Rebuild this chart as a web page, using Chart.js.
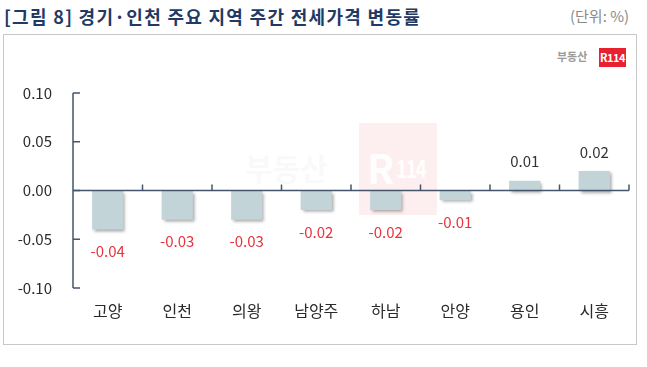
<!DOCTYPE html>
<html>
<head>
<meta charset="utf-8">
<script src="https://cdn.jsdelivr.net/npm/chart.js@4.4.3/dist/chart.umd.min.js"></script>
<style>
  html, body { margin: 0; padding: 0; background: #fff; }
  body { width: 647px; height: 367px; position: relative; overflow: hidden; font-family: "Noto Sans CJK KR", "Noto Sans", sans-serif; }
  .title { position: absolute; left: 4px; top: 3px; font-size: 18px; font-weight: bold; color: #1f3a64; white-space: nowrap; letter-spacing: 1.3px; }
  .unit { position: absolute; left: 570px; top: 5px; font-size: 15px; color: #8a8a8a; white-space: nowrap; }
  .box { position: absolute; left: 3px; top: 34px; width: 634px; height: 311px; border: 1.5px solid #c8c8c8; box-sizing: border-box; }
  .logo-txt { position: absolute; left: 557px; top: 48px; font-size: 11px; font-weight: bold; color: #9a9a9a; }
  .logo-box { position: absolute; left: 599px; top: 48px; width: 27px; height: 19px; background: #e8202f; color: #fff; font-size: 11px; font-weight: bold; text-align: center; line-height: 19px; letter-spacing: -0.5px; }
  .wm-box { position: absolute; left: 359px; top: 123px; width: 78px; height: 92px; background: rgba(240, 130, 140, 0.13); }
  .wm-r { position: absolute; left: 367px; top: 138px; font-size: 40px; font-weight: bold; color: rgba(255,255,255,0.95); }
  .wm-n { position: absolute; left: 396px; top: 150px; font-size: 24px; font-weight: bold; color: rgba(255,255,255,0.95); letter-spacing: -2px; transform: scaleX(0.8); transform-origin: left; }
  .wm-txt { position: absolute; left: 245px; top: 145px; font-size: 30px; font-weight: bold; color: rgba(200,200,200,0.10); }
  canvas { position: absolute; left: 0; top: 0; }
</style>
</head>
<body>
<div class="title">[그림 8] 경기·인천 주요 지역 주간 전세가격 변동률</div>
<div class="unit">(단위: %)</div>
<div class="box"></div>
<div class="wm-box"></div>
<div class="wm-txt">부동산</div>
<div class="wm-r">R</div>
<div class="wm-n">114</div>
<div class="logo-txt">부동산</div>
<div class="logo-box">R114</div>
<canvas id="c" width="647" height="367"></canvas>
<script>
const REGIONS = ['고양', '인천', '의왕', '남양주', '하남', '안양', '용인', '시흥'];
const CHANGE = [-0.04, -0.03, -0.03, -0.02, -0.02, -0.01, 0.01, 0.02];
const Y_MIN = -0.10;
const Y_MAX = 0.10;
const Y_STEP = 0.05;

const AXIS_COLOR = '#44546a';
const FONT = '"Noto Sans CJK KR", "Noto Sans", sans-serif';

// shadow under bars
const barShadow = {
  id: 'barShadow',
  beforeDatasetsDraw(chart) {
    const ctx = chart.ctx;
    ctx.save();
    ctx.shadowColor = 'rgba(0,0,0,0.35)';
    ctx.shadowBlur = 3;
    ctx.shadowOffsetX = 2;
    ctx.shadowOffsetY = 2;
  },
  afterDatasetsDraw(chart) {
    chart.ctx.restore();
  }
};

// axis lines, inward ticks, zero line
const axes = {
  id: 'axes',
  afterDatasetsDraw(chart) {
    const { ctx, chartArea, scales } = chart;
    const x = scales.x, y = scales.y;
    const y0 = y.getPixelForValue(0);
    ctx.save();
    ctx.strokeStyle = AXIS_COLOR;
    ctx.lineWidth = 1.5;
    ctx.beginPath();
    ctx.moveTo(chartArea.left, y.getPixelForValue(Y_MAX));
    ctx.lineTo(chartArea.left, y.getPixelForValue(Y_MIN));
    ctx.stroke();
    y.ticks.forEach(t => {
      const py = y.getPixelForValue(t.value);
      ctx.beginPath();
      ctx.moveTo(chartArea.left, py);
      ctx.lineTo(chartArea.left + 7, py);
      ctx.stroke();
    });
    ctx.beginPath();
    ctx.moveTo(chartArea.left, y0);
    ctx.lineTo(chartArea.right, y0);
    ctx.stroke();
    for (let i = 1; i <= REGIONS.length; i++) {
      const px = i < REGIONS.length
        ? (x.getPixelForValue(i - 1) + x.getPixelForValue(i)) / 2
        : chartArea.right;
      ctx.beginPath();
      ctx.moveTo(px, y0);
      ctx.lineTo(px, y0 - 6);
      ctx.stroke();
    }
    ctx.restore();
  }
};

// value labels
const valueLabels = {
  id: 'valueLabels',
  afterDatasetsDraw(chart) {
    const ctx = chart.ctx;
    const meta = chart.getDatasetMeta(0);
    ctx.save();
    ctx.font = '15px ' + FONT;
    ctx.textAlign = 'center';
    ctx.textBaseline = 'middle';
    meta.data.forEach((bar, i) => {
      const v = CHANGE[i];
      if (v < 0) {
        ctx.fillStyle = '#e8323c';
        ctx.fillText(v.toFixed(2), bar.x, bar.y + 22);
      } else {
        ctx.fillStyle = '#333';
        ctx.fillText(v.toFixed(2), bar.x, bar.y - 19);
      }
    });
    ctx.restore();
  }
};

new Chart(document.getElementById('c'), {
  type: 'bar',
  data: {
    labels: REGIONS,
    datasets: [{
      data: CHANGE,
      backgroundColor: '#c3d4d8',
      borderWidth: 0,
      barPercentage: 0.45,
      categoryPercentage: 1
    }]
  },
  options: {
    responsive: false,
    animation: false,
    devicePixelRatio: 1,
    layout: { padding: { top: 93, right: 18, left: 0, bottom: 0 } },
    plugins: { legend: { display: false }, tooltip: { enabled: false } },
    scales: {
      x: {
        grid: { display: false },
        border: { display: false },
        ticks: { color: '#2a2a2a', font: { size: 16, family: FONT }, padding: 5 },
        afterFit: s => { s.height = 79; }
      },
      y: {
        min: Y_MIN,
        max: Y_MAX,
        grid: { display: false },
        border: { display: false },
        ticks: {
          stepSize: Y_STEP,
          color: '#2a2a2a',
          font: { size: 15, family: FONT },
          padding: 13,
          callback: v => Number(v).toFixed(2)
        },
        afterFit: s => { s.width = 73; }
      }
    }
  },
  plugins: [barShadow, axes, valueLabels]
});
</script>
</body>
</html>
